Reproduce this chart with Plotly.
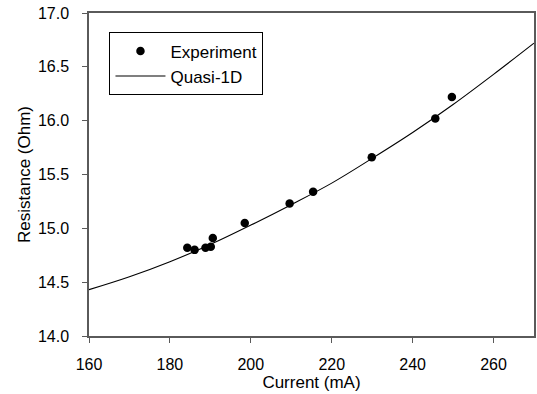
import plotly.graph_objects as go

# Experimental data
exp_current = [184.3, 186.1, 188.8, 190.1, 190.6, 198.5, 209.6, 215.4, 229.9, 245.6, 249.7]
exp_resistance = [14.82, 14.80, 14.82, 14.83, 14.91, 15.05, 15.23, 15.34, 15.66, 16.02, 16.22]

# Quasi-1D model curve
model_current = [160, 170, 180, 190, 200, 210, 220, 230, 240, 250, 260, 270]
model_resistance = [14.43, 14.55, 14.69, 14.85, 15.03, 15.22, 15.42, 15.65, 15.89, 16.15, 16.43, 16.72]

x_ticks = [160, 180, 200, 220, 240, 260]
y_ticks = [14.0, 14.5, 15.0, 15.5, 16.0, 16.5, 17.0]

fig = go.Figure()
fig.add_trace(go.Scatter(
    x=exp_current, y=exp_resistance, mode="markers", name="Experiment",
    marker=dict(color="black", size=8.5, line=dict(width=0)),
))
fig.add_trace(go.Scatter(
    x=model_current, y=model_resistance, mode="lines", name="Quasi-1D",
    line=dict(color="black", width=1.1, shape="spline"),
))

font_family = "Liberation Sans, Arial, sans-serif"
axis_common = dict(
    showline=True, linecolor="#5a5a5a", linewidth=1.5, mirror=True,
    ticks="outside", ticklen=5, tickwidth=1.2, tickcolor="#5a5a5a",
    showgrid=False, zeroline=False,
    tickfont=dict(size=16, color="black", family=font_family),
)

fig.update_layout(
    width=537, height=394,
    margin=dict(l=89, r=1, t=13, b=58),
    plot_bgcolor="white", paper_bgcolor="white",
    font=dict(family=font_family, color="black"),
    showlegend=True,
    legend=dict(
        x=0.046, y=0.94, xanchor="left", yanchor="top",
        bordercolor="black", borderwidth=1, bgcolor="white",
        font=dict(size=17, color="black", family=font_family),
        itemwidth=50,
    ),
    xaxis=dict(
        range=[160, 270], tickvals=x_ticks, ticktext=[str(v) for v in x_ticks],
        ticklabelstandoff=8,
        title=dict(text="Current (mA)", font=dict(size=17, family=font_family), standoff=0),
        **axis_common,
    ),
    yaxis=dict(
        range=[14.0, 17.0], tickvals=y_ticks, ticktext=[f"{v:.1f}" for v in y_ticks],
        ticklabelstandoff=10,
        title=dict(text="Resistance (Ohm)", font=dict(size=17, family=font_family), standoff=3),
        **axis_common,
    ),
)

fig.write_html("out.html")
